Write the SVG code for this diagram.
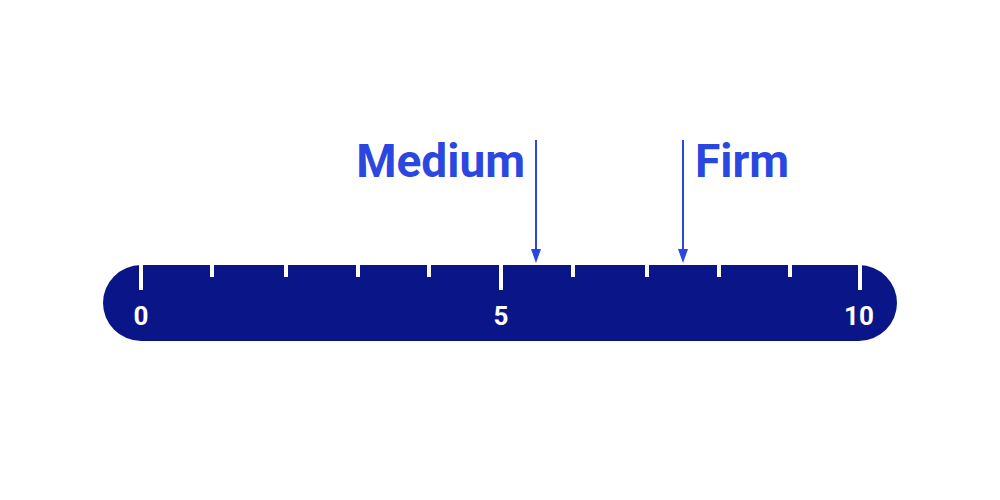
<svg xmlns="http://www.w3.org/2000/svg" width="1000" height="500" viewBox="0 0 1000 500">
<style>
.t{stroke:#fff;stroke-width:4}
.n{fill:#fff;font-family:Roboto,"Liberation Sans",sans-serif;font-weight:bold;font-size:26px;text-anchor:middle}
.l{fill:#2a47e0;font-family:Roboto,"Liberation Sans",sans-serif;font-weight:bold;font-size:46px}
.a{stroke:#2a47e0;stroke-width:2;fill:none}
</style>
<defs><marker id="ah" markerWidth="10" markerHeight="14" refX="5" refY="14" orient="auto" markerUnits="userSpaceOnUse" viewBox="0 0 10 14"><path d="M0,0 L10,0 L5,14 Z" fill="#2a47e0" transform="rotate(-90 5 7)"/></marker></defs>
<g id="scale">
<rect x="103" y="265" width="794" height="76" rx="38" fill="#0a1687"/>
<line class="t" x1="141" y1="265" x2="141" y2="290"/>
<line class="t" x1="212" y1="265" x2="212" y2="277"/>
<line class="t" x1="286" y1="265" x2="286" y2="277"/>
<line class="t" x1="358" y1="265" x2="358" y2="277"/>
<line class="t" x1="429" y1="265" x2="429" y2="277"/>
<line class="t" x1="501" y1="265" x2="501" y2="290"/>
<line class="t" x1="573" y1="265" x2="573" y2="277"/>
<line class="t" x1="647" y1="265" x2="647" y2="277"/>
<line class="t" x1="719" y1="265" x2="719" y2="277"/>
<line class="t" x1="790" y1="265" x2="790" y2="277"/>
<line class="t" x1="860" y1="265" x2="860" y2="290"/>
<text class="n" x="141" y="325">0</text>
<text class="n" x="501" y="325">5</text>
<text class="n" x="859" y="325">10</text>
</g>
<g id="medium"><text class="l" x="525" y="177" text-anchor="end">Medium</text></g>
<g id="firm"><text class="l" x="695" y="177">Firm</text></g>
<g id="connectors">
<line class="a" x1="536" y1="140" x2="536" y2="250"/>
<path d="M531,249 L541,249 L536,263 Z" fill="#2a47e0"/>
<line class="a" x1="683" y1="140" x2="683" y2="250"/>
<path d="M678,249 L688,249 L683,263 Z" fill="#2a47e0"/>
</g>
</svg>
